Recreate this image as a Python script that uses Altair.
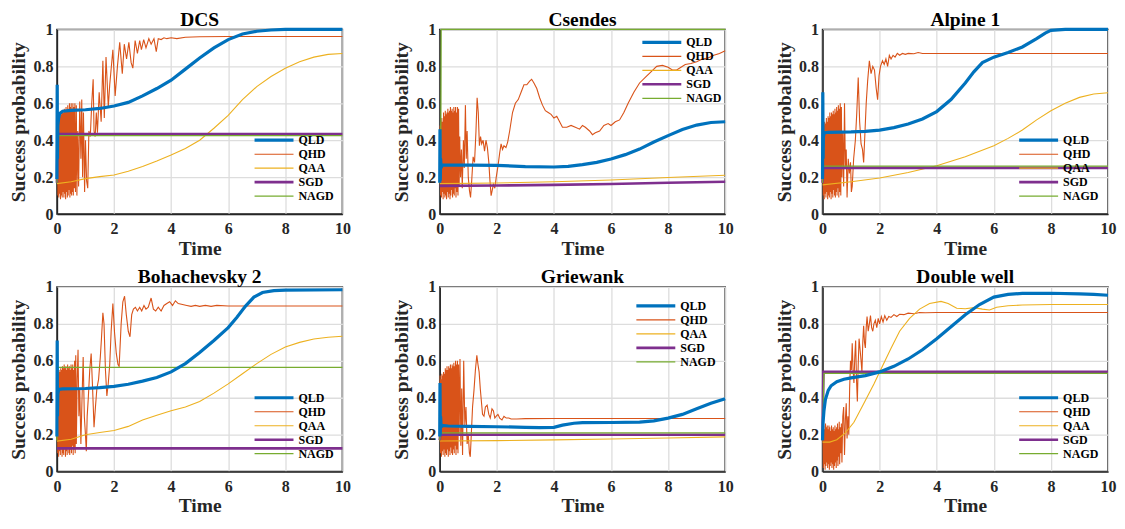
import altair as alt
import pandas as pd

SERIES = ["QLD", "QHD", "QAA", "SGD", "NAGD"]
COLORS = ["#0072BD", "#D95319", "#EDB120", "#7E2F8E", "#77AC30"]
WIDTHS = [3.2, 1.1, 1.1, 2.6, 1.3]
DRAW_ORDER = ["QHD", "QAA", "SGD", "NAGD", "QLD"]
TITLES = ["DCS", "Csendes", "Alpine 1", "Bohachevsky 2", "Griewank", "Double well"]
X_TICKS = [0, 2, 4, 6, 8, 10]
Y_TICKS = [0, 0.2, 0.4, 0.6, 0.8, 1]

# ---------------- DCS ----------------
DCS_QLD = [(0, 0.19), (0.01, 0.70), (0.02, 0.30), (0.03, 0.48), (0.06, 0.52), (0.1, 0.545), (0.2, 0.557),
           (0.5, 0.562), (1, 0.565), (1.5, 0.572), (2, 0.585), (2.5, 0.605), (3, 0.64), (3.5, 0.68), (4, 0.725),
           (4.5, 0.785), (5, 0.845), (5.5, 0.9), (6, 0.945), (6.5, 0.975), (7, 0.99), (7.5, 0.997), (8, 1.0), (10, 1.0)]
DCS_QHD = [(0.00, 0.17), (0.02, 0.45), (0.035, 0.10), (0.05, 0.50), (0.065, 0.09), (0.08, 0.52), (0.095, 0.11),
           (0.11, 0.53), (0.125, 0.08), (0.14, 0.55), (0.155, 0.10), (0.17, 0.54), (0.185, 0.09), (0.20, 0.56),
           (0.215, 0.12), (0.23, 0.55), (0.245, 0.09), (0.26, 0.57), (0.275, 0.11), (0.29, 0.56), (0.305, 0.08),
           (0.32, 0.58), (0.335, 0.12), (0.35, 0.56), (0.365, 0.09), (0.38, 0.59), (0.395, 0.10), (0.41, 0.57),
           (0.425, 0.13), (0.44, 0.60), (0.455, 0.09), (0.47, 0.58), (0.485, 0.11), (0.50, 0.60), (0.515, 0.10),
           (0.53, 0.57), (0.545, 0.12), (0.56, 0.60), (0.575, 0.10), (0.59, 0.58), (0.61, 0.14), (0.63, 0.60),
           (0.65, 0.12), (0.68, 0.59), (0.70, 0.10), (0.73, 0.45), (0.76, 0.15), (0.80, 0.61), (0.84, 0.30),
           (0.87, 0.62), (0.90, 0.20), (0.93, 0.55), (0.97, 0.12), (1.00, 0.40), (1.04, 0.18), (1.08, 0.14),
           (1.12, 0.45), (1.17, 0.42), (1.22, 0.60), (1.27, 0.73), (1.30, 0.45), (1.34, 0.42), (1.38, 0.55),
           (1.42, 0.44), (1.48, 0.66), (1.55, 0.50), (1.61, 0.83), (1.66, 0.52), (1.72, 0.85), (1.80, 0.58),
           (1.85, 0.70), (1.96, 0.89), (2.04, 0.64), (2.12, 0.80), (2.20, 0.93), (2.29, 0.76), (2.36, 0.92),
           (2.44, 0.84), (2.52, 0.93), (2.60, 0.82), (2.66, 0.79), (2.74, 0.94), (2.82, 0.87), (2.90, 0.94),
           (2.96, 0.89), (3.04, 0.945), (3.12, 0.90), (3.22, 0.95), (3.30, 0.92), (3.40, 0.95), (3.48, 0.88),
           (3.55, 0.95), (3.65, 0.945), (3.75, 0.955), (3.85, 0.95), (4.0, 0.955), (4.2, 0.95), (4.5, 0.958),
           (5.0, 0.96), (6.0, 0.962), (10, 0.962)]
DCS_QAA = [(0, 0.165), (0.5, 0.175), (1, 0.192), (1.5, 0.203), (2, 0.212), (2.5, 0.232), (3, 0.258), (3.5, 0.288),
           (4, 0.32), (4.5, 0.355), (5, 0.40), (5.5, 0.465), (6, 0.535), (6.5, 0.62), (7, 0.69), (7.5, 0.745),
           (8, 0.79), (8.5, 0.825), (9, 0.85), (9.5, 0.865), (10, 0.87)]
DCS_SGD = [(0, 0.17), (0.02, 0.434), (10, 0.434)]
DCS_NAGD = [(0, 0.17), (0.02, 0.425), (10, 0.425)]

# ---------------- Csendes ----------------
CSE_QLD = [(0, 0.17), (0.01, 0.46), (0.02, 0.18), (0.03, 0.30), (0.05, 0.25), (0.08, 0.265), (0.5, 0.265),
           (1, 0.265), (2, 0.264), (3, 0.257), (4, 0.255), (4.5, 0.258), (5, 0.268), (5.5, 0.28), (6, 0.298),
           (6.5, 0.322), (7, 0.352), (7.5, 0.39), (8, 0.425), (8.5, 0.458), (9, 0.482), (9.5, 0.496), (10, 0.50)]
CSE_QHD = [(0.00, 0.17), (0.015, 0.48), (0.03, 0.10), (0.045, 0.50), (0.06, 0.09), (0.075, 0.52), (0.09, 0.12),
           (0.105, 0.50), (0.12, 0.08), (0.135, 0.55), (0.15, 0.11), (0.165, 0.53), (0.18, 0.09), (0.195, 0.56),
           (0.21, 0.10), (0.225, 0.54), (0.24, 0.08), (0.255, 0.55), (0.27, 0.12), (0.285, 0.57), (0.30, 0.09),
           (0.315, 0.55), (0.33, 0.11), (0.345, 0.56), (0.36, 0.08), (0.375, 0.58), (0.39, 0.10), (0.405, 0.56),
           (0.42, 0.13), (0.435, 0.57), (0.45, 0.09), (0.465, 0.55), (0.48, 0.11), (0.495, 0.58), (0.51, 0.10),
           (0.525, 0.56), (0.54, 0.14), (0.555, 0.58), (0.57, 0.09), (0.585, 0.55), (0.60, 0.12), (0.62, 0.58),
           (0.64, 0.10), (0.66, 0.57), (0.68, 0.15), (0.70, 0.42), (0.73, 0.20), (0.76, 0.35), (0.79, 0.14),
           (0.83, 0.40), (0.86, 0.25), (0.90, 0.59), (0.93, 0.30), (0.96, 0.45), (1.00, 0.20), (1.04, 0.13),
           (1.08, 0.09), (1.12, 0.18), (1.17, 0.31), (1.22, 0.28), (1.27, 0.45), (1.31, 0.63), (1.35, 0.55),
           (1.39, 0.37), (1.43, 0.42), (1.47, 0.38), (1.52, 0.40), (1.57, 0.34), (1.62, 0.40), (1.67, 0.36),
           (1.72, 0.28), (1.76, 0.18), (1.80, 0.10), (1.84, 0.13), (1.88, 0.16), (1.93, 0.14), (1.98, 0.20),
           (2.04, 0.26), (2.10, 0.33), (2.15, 0.38), (2.20, 0.35), (2.25, 0.37), (2.32, 0.36), (2.38, 0.39),
           (2.45, 0.45), (2.55, 0.55), (2.65, 0.60), (2.75, 0.62), (2.85, 0.66), (2.95, 0.70), (3.05, 0.70),
           (3.15, 0.72), (3.22, 0.73), (3.30, 0.71), (3.40, 0.68), (3.50, 0.63), (3.60, 0.59), (3.70, 0.56),
           (3.80, 0.55), (3.90, 0.54), (4.00, 0.52), (4.10, 0.53), (4.20, 0.50), (4.30, 0.47), (4.45, 0.47),
           (4.60, 0.48), (4.75, 0.47), (4.90, 0.46), (5.00, 0.48), (5.10, 0.47), (5.25, 0.45), (5.35, 0.43),
           (5.45, 0.44), (5.60, 0.45), (5.75, 0.48), (5.90, 0.49), (6.00, 0.48), (6.15, 0.50), (6.30, 0.51),
           (6.45, 0.55), (6.60, 0.60), (6.80, 0.66), (7.00, 0.71), (7.20, 0.74), (7.40, 0.77), (7.60, 0.80),
           (7.80, 0.805), (8.00, 0.795), (8.15, 0.78), (8.30, 0.78), (8.45, 0.795), (8.60, 0.81), (8.80, 0.815),
           (9.00, 0.825), (9.20, 0.84), (9.40, 0.845), (9.60, 0.86), (9.80, 0.87), (10.0, 0.885)]
CSE_QAA = [(0, 0.165), (2, 0.168), (4, 0.175), (6, 0.185), (8, 0.198), (10, 0.21)]
CSE_SGD = [(0, 0.153), (2, 0.155), (4, 0.158), (6, 0.163), (8, 0.17), (10, 0.175)]
CSE_NAGD = [(0, 0.17), (0.04, 0.5), (0.05, 1.0), (10, 1.0)]

# ---------------- Alpine 1 ----------------
ALP_QLD = [(0, 0.19), (0.01, 0.66), (0.02, 0.30), (0.03, 0.42), (0.06, 0.44), (0.2, 0.443), (1, 0.445),
           (1.5, 0.448), (2, 0.455), (2.5, 0.468), (3, 0.488), (3.5, 0.515), (4, 0.555), (4.5, 0.62), (5, 0.71),
           (5.3, 0.77), (5.6, 0.82), (6, 0.85), (6.5, 0.875), (7, 0.905), (7.5, 0.95), (7.8, 0.98), (8, 0.995),
           (8.5, 1.0), (10, 1.0)]
ALP_QHD = [(0.00, 0.17), (0.015, 0.45), (0.03, 0.10), (0.045, 0.48), (0.06, 0.08), (0.075, 0.50), (0.09, 0.11),
           (0.105, 0.49), (0.12, 0.09), (0.135, 0.52), (0.15, 0.12), (0.165, 0.50), (0.18, 0.08), (0.195, 0.53),
           (0.21, 0.10), (0.225, 0.52), (0.24, 0.09), (0.255, 0.55), (0.27, 0.12), (0.285, 0.53), (0.30, 0.08),
           (0.315, 0.55), (0.33, 0.11), (0.345, 0.54), (0.36, 0.09), (0.375, 0.56), (0.39, 0.13), (0.405, 0.54),
           (0.42, 0.10), (0.435, 0.57), (0.45, 0.09), (0.465, 0.55), (0.48, 0.12), (0.495, 0.58), (0.51, 0.10),
           (0.525, 0.56), (0.54, 0.14), (0.555, 0.59), (0.57, 0.09), (0.585, 0.57), (0.60, 0.12), (0.62, 0.60),
           (0.64, 0.10), (0.66, 0.58), (0.68, 0.20), (0.71, 0.45), (0.74, 0.15), (0.77, 0.60), (0.80, 0.25),
           (0.83, 0.35), (0.86, 0.09), (0.90, 0.30), (0.94, 0.22), (0.98, 0.28), (1.01, 0.12), (1.04, 0.15),
           (1.09, 0.30), (1.15, 0.40), (1.20, 0.55), (1.25, 0.74), (1.30, 0.50), (1.35, 0.38), (1.40, 0.35),
           (1.44, 0.28), (1.48, 0.42), (1.53, 0.60), (1.58, 0.72), (1.64, 0.83), (1.70, 0.76), (1.76, 0.80),
           (1.82, 0.78), (1.88, 0.68), (1.93, 0.62), (1.98, 0.75), (2.03, 0.80), (2.10, 0.83), (2.16, 0.81),
           (2.22, 0.84), (2.28, 0.80), (2.34, 0.86), (2.40, 0.84), (2.47, 0.86), (2.54, 0.85), (2.62, 0.87),
           (2.70, 0.86), (2.80, 0.87), (2.90, 0.865), (3.00, 0.87), (3.20, 0.868), (3.35, 0.875), (3.50, 0.87),
           (4.00, 0.87), (10.0, 0.87)]
ALP_QAA = [(0, 0.158), (1, 0.175), (2, 0.195), (3, 0.225), (4, 0.262), (5, 0.31), (6, 0.37), (6.5, 0.41),
           (7, 0.455), (7.5, 0.51), (8, 0.56), (8.5, 0.6), (9, 0.632), (9.5, 0.65), (10, 0.657)]
ALP_SGD = [(0, 0.17), (0.02, 0.25), (10, 0.25)]
ALP_NAGD = [(0, 0.17), (0.02, 0.26), (10, 0.26)]

# ---------------- Bohachevsky 2 ----------------
BOH_QLD = [(0, 0.19), (0.01, 0.71), (0.02, 0.30), (0.03, 0.42), (0.06, 0.445), (0.2, 0.448), (1, 0.45),
           (1.5, 0.455), (2, 0.462), (2.5, 0.473), (3, 0.49), (3.5, 0.51), (4, 0.54), (4.5, 0.585), (5, 0.645),
           (5.5, 0.71), (6, 0.78), (6.3, 0.835), (6.6, 0.895), (6.9, 0.945), (7.2, 0.97), (7.6, 0.98), (8, 0.983),
           (10, 0.985)]
BOH_QHD = [(0.00, 0.17), (0.015, 0.50), (0.03, 0.10), (0.045, 0.53), (0.06, 0.08), (0.075, 0.55), (0.09, 0.11),
           (0.105, 0.54), (0.12, 0.09), (0.135, 0.56), (0.15, 0.12), (0.165, 0.55), (0.18, 0.08), (0.195, 0.57),
           (0.21, 0.10), (0.225, 0.56), (0.24, 0.09), (0.255, 0.58), (0.27, 0.12), (0.285, 0.56), (0.30, 0.08),
           (0.315, 0.57), (0.33, 0.11), (0.345, 0.55), (0.36, 0.09), (0.375, 0.58), (0.39, 0.13), (0.405, 0.56),
           (0.42, 0.10), (0.435, 0.57), (0.45, 0.09), (0.465, 0.55), (0.48, 0.12), (0.495, 0.58), (0.51, 0.10),
           (0.525, 0.56), (0.54, 0.14), (0.555, 0.58), (0.57, 0.09), (0.585, 0.55), (0.60, 0.12), (0.62, 0.60),
           (0.64, 0.10), (0.66, 0.63), (0.68, 0.15), (0.71, 0.50), (0.74, 0.66), (0.77, 0.30), (0.80, 0.45),
           (0.84, 0.15), (0.88, 0.40), (0.92, 0.62), (0.96, 0.30), (1.00, 0.20), (1.03, 0.11), (1.06, 0.30),
           (1.10, 0.40), (1.15, 0.55), (1.20, 0.64), (1.25, 0.45), (1.30, 0.24), (1.35, 0.35), (1.40, 0.45),
           (1.46, 0.50), (1.52, 0.62), (1.56, 0.72), (1.61, 0.86), (1.65, 0.80), (1.70, 0.55), (1.75, 0.41),
           (1.80, 0.48), (1.85, 0.58), (1.90, 0.76), (1.96, 0.91), (2.02, 0.75), (2.08, 0.64), (2.14, 0.58),
           (2.18, 0.57), (2.25, 0.80), (2.31, 0.92), (2.37, 0.95), (2.43, 0.85), (2.50, 0.76), (2.56, 0.73),
           (2.62, 0.85), (2.68, 0.88), (2.75, 0.89), (2.82, 0.87), (2.90, 0.89), (2.97, 0.87), (3.05, 0.90),
           (3.12, 0.88), (3.20, 0.89), (3.30, 0.94), (3.38, 0.88), (3.46, 0.87), (3.55, 0.89), (3.65, 0.87),
           (3.75, 0.90), (3.85, 0.91), (3.95, 0.92), (4.05, 0.90), (4.15, 0.925), (4.25, 0.91), (4.40, 0.905),
           (4.55, 0.90), (4.70, 0.895), (4.85, 0.90), (5.00, 0.895), (5.20, 0.90), (5.40, 0.895), (5.60, 0.90),
           (6.00, 0.897), (10.0, 0.897)]
BOH_QAA = [(0, 0.165), (0.5, 0.175), (1, 0.20), (1.5, 0.212), (2, 0.223), (2.5, 0.245), (3, 0.28), (3.5, 0.305),
           (4, 0.33), (4.5, 0.35), (5, 0.38), (5.5, 0.425), (6, 0.475), (6.5, 0.53), (7, 0.585), (7.5, 0.635),
           (8, 0.675), (8.5, 0.70), (9, 0.718), (9.5, 0.728), (10, 0.733)]
BOH_SGD = [(0, 0.126), (10, 0.126)]
BOH_NAGD = [(0, 0.17), (0.03, 0.565), (10, 0.565)]

# ---------------- Griewank ----------------
GRI_QLD = [(0, 0.19), (0.01, 0.48), (0.02, 0.20), (0.03, 0.30), (0.05, 0.24), (0.08, 0.25), (0.3, 0.247),
           (1, 0.245), (2, 0.243), (3, 0.24), (3.5, 0.238), (4, 0.24), (4.3, 0.252), (4.7, 0.262), (5, 0.265),
           (6, 0.266), (7, 0.268), (7.5, 0.275), (8, 0.29), (8.5, 0.31), (9, 0.34), (9.5, 0.37), (10, 0.395)]
GRI_QHD = [(0.00, 0.17), (0.015, 0.52), (0.03, 0.10), (0.045, 0.50), (0.06, 0.08), (0.075, 0.53), (0.09, 0.11),
           (0.105, 0.52), (0.12, 0.09), (0.135, 0.54), (0.15, 0.12), (0.165, 0.53), (0.18, 0.08), (0.195, 0.56),
           (0.21, 0.10), (0.225, 0.55), (0.24, 0.09), (0.255, 0.57), (0.27, 0.12), (0.285, 0.55), (0.30, 0.08),
           (0.315, 0.57), (0.33, 0.11), (0.345, 0.56), (0.36, 0.09), (0.375, 0.58), (0.39, 0.13), (0.405, 0.56),
           (0.42, 0.10), (0.435, 0.58), (0.45, 0.09), (0.465, 0.57), (0.48, 0.12), (0.495, 0.59), (0.51, 0.10),
           (0.525, 0.57), (0.54, 0.14), (0.555, 0.60), (0.57, 0.09), (0.585, 0.58), (0.60, 0.12), (0.62, 0.60),
           (0.64, 0.10), (0.66, 0.58), (0.68, 0.20), (0.71, 0.61), (0.74, 0.14), (0.77, 0.45), (0.80, 0.09),
           (0.84, 0.60), (0.88, 0.25), (0.92, 0.35), (0.96, 0.15), (1.00, 0.20), (1.04, 0.10), (1.07, 0.08),
           (1.10, 0.18), (1.15, 0.35), (1.20, 0.44), (1.25, 0.55), (1.30, 0.63), (1.34, 0.58), (1.38, 0.54),
           (1.42, 0.45), (1.46, 0.38), (1.50, 0.31), (1.55, 0.30), (1.60, 0.35), (1.66, 0.36), (1.72, 0.31),
           (1.77, 0.29), (1.83, 0.34), (1.88, 0.33), (1.93, 0.29), (1.98, 0.30), (2.04, 0.31), (2.10, 0.29),
           (2.18, 0.28), (2.25, 0.30), (2.33, 0.29), (2.42, 0.29), (2.50, 0.285), (2.70, 0.285), (3.00, 0.287),
           (4.00, 0.288), (10.0, 0.288)]
GRI_QAA = [(0, 0.166), (2, 0.168), (4, 0.172), (6, 0.177), (8, 0.182), (10, 0.188)]
GRI_SGD = [(0, 0.17), (0.02, 0.20), (10, 0.20)]
GRI_NAGD = [(0, 0.17), (0.02, 0.21), (10, 0.21)]

# ---------------- Double well ----------------
DW_QLD = [(0, 0.17), (0.02, 0.27), (0.05, 0.33), (0.1, 0.39), (0.2, 0.44), (0.3, 0.465), (0.5, 0.487),
          (0.75, 0.50), (1, 0.508), (1.5, 0.52), (2, 0.54), (2.5, 0.57), (3, 0.61), (3.5, 0.66), (4, 0.72),
          (4.5, 0.785), (5, 0.85), (5.5, 0.905), (6, 0.945), (6.5, 0.96), (7, 0.965), (8, 0.966), (9, 0.963),
          (9.5, 0.96), (10, 0.955)]
DW_QHD = [(0.00, 0.17), (0.015, 0.24), (0.03, 0.02), (0.045, 0.25), (0.06, 0.04), (0.075, 0.23), (0.09, 0.01),
          (0.105, 0.26), (0.12, 0.03), (0.135, 0.24), (0.15, 0.05), (0.165, 0.25), (0.18, 0.02), (0.195, 0.23),
          (0.21, 0.04), (0.225, 0.25), (0.24, 0.01), (0.255, 0.24), (0.27, 0.03), (0.285, 0.22), (0.30, 0.05),
          (0.315, 0.25), (0.33, 0.02), (0.345, 0.23), (0.36, 0.04), (0.375, 0.24), (0.39, 0.01), (0.405, 0.22),
          (0.42, 0.03), (0.435, 0.25), (0.45, 0.05), (0.465, 0.23), (0.48, 0.02), (0.495, 0.24), (0.51, 0.06),
          (0.525, 0.26), (0.54, 0.03), (0.555, 0.23), (0.57, 0.08), (0.585, 0.27), (0.60, 0.04), (0.62, 0.24),
          (0.64, 0.10), (0.66, 0.26), (0.68, 0.05), (0.71, 0.30), (0.74, 0.35), (0.77, 0.09), (0.80, 0.28),
          (0.83, 0.37), (0.86, 0.18), (0.89, 0.30), (0.92, 0.20), (0.95, 0.45), (0.98, 0.60), (1.01, 0.55),
          (1.04, 0.695), (1.07, 0.55), (1.10, 0.48), (1.13, 0.62), (1.16, 0.71), (1.19, 0.50), (1.22, 0.38),
          (1.25, 0.58), (1.28, 0.72), (1.31, 0.67), (1.35, 0.60), (1.38, 0.54), (1.41, 0.70), (1.44, 0.79),
          (1.47, 0.70), (1.50, 0.67), (1.53, 0.78), (1.56, 0.84), (1.60, 0.76), (1.64, 0.80), (1.68, 0.845),
          (1.72, 0.78), (1.76, 0.76), (1.80, 0.80), (1.85, 0.82), (1.90, 0.78), (1.95, 0.83), (2.00, 0.80),
          (2.06, 0.84), (2.12, 0.81), (2.18, 0.845), (2.25, 0.82), (2.32, 0.84), (2.40, 0.835), (2.50, 0.85),
          (2.60, 0.84), (2.70, 0.852), (2.85, 0.85), (3.00, 0.858), (3.20, 0.855), (3.40, 0.862), (3.60, 0.86),
          (4.00, 0.862), (10.0, 0.862)]
DW_QAA = [(0, 0.16), (0.25, 0.16), (0.5, 0.173), (0.8, 0.21), (1.1, 0.267), (1.45, 0.37), (1.8, 0.475),
          (2.0, 0.54), (2.4, 0.668), (2.7, 0.76), (3.05, 0.83), (3.4, 0.88), (3.75, 0.91), (4.15, 0.922),
          (4.4, 0.91), (4.7, 0.885), (5.0, 0.882), (5.3, 0.888), (5.6, 0.88), (5.85, 0.875), (6.1, 0.89),
          (6.5, 0.898), (7, 0.902), (8, 0.905), (10, 0.905)]
DW_SGD = [(0, 0.17), (0.03, 0.54), (10, 0.54)]
DW_NAGD = [(0, 0.17), (0.05, 0.532), (10, 0.532)]

PANELS = [
    ("DCS", {"QLD": DCS_QLD, "QHD": DCS_QHD, "QAA": DCS_QAA, "SGD": DCS_SGD, "NAGD": DCS_NAGD}, 196, 104),
    ("Csendes", {"QLD": CSE_QLD, "QHD": CSE_QHD, "QAA": CSE_QAA, "SGD": CSE_SGD, "NAGD": CSE_NAGD}, 201, 6),
    ("Alpine 1", {"QLD": ALP_QLD, "QHD": ALP_QHD, "QAA": ALP_QAA, "SGD": ALP_SGD, "NAGD": ALP_NAGD}, 195, 104),
    ("Bohachevsky 2", {"QLD": BOH_QLD, "QHD": BOH_QHD, "QAA": BOH_QAA, "SGD": BOH_SGD, "NAGD": BOH_NAGD}, 196, 104),
    ("Griewank", {"QLD": GRI_QLD, "QHD": GRI_QHD, "QAA": GRI_QAA, "SGD": GRI_SGD, "NAGD": GRI_NAGD}, 195, 12),
    ("Double well", {"QLD": DW_QLD, "QHD": DW_QHD, "QAA": DW_QAA, "SGD": DW_SGD, "NAGD": DW_NAGD}, 195, 104),
]

FONT = "Liberation Serif"
PW, PH = 286, 185


def make_panel(title, series, lx, ly):
    rows = []
    for s, pts in series.items():
        for t, p in pts:
            rows.append({"t": t, "p": p, "s": s})
    df = pd.DataFrame(rows)
    legend = alt.Legend(orient="none", legendX=lx, legendY=ly, title=None)
    color = alt.Color("s:N", scale=alt.Scale(domain=SERIES, range=COLORS), legend=legend)
    sw = alt.StrokeWidth("s:N", scale=alt.Scale(type="ordinal", domain=SERIES, range=WIDTHS), legend=legend)
    x = alt.X("t:Q", scale=alt.Scale(domain=[0, 10], nice=False),
              axis=alt.Axis(values=X_TICKS, title="Time", format="d"))
    y = alt.Y("p:Q", scale=alt.Scale(domain=[0, 1], nice=False),
              axis=alt.Axis(values=Y_TICKS, title="Success probability", format="~g"))
    layers = []
    for s in DRAW_ORDER:
        layers.append(
            alt.Chart(df).transform_filter(alt.datum.s == s)
            .mark_line(strokeJoin="miter")
            .encode(x=x, y=y, color=color, strokeWidth=sw)
        )
    return alt.layer(*layers).properties(width=PW, height=PH, title=title)


panels = [make_panel(*p) for p in PANELS]

chart = (
    alt.concat(*panels, columns=3, spacing={"row": 7, "column": 39.5})
    .resolve_scale(color="independent", strokeWidth="independent")
    .resolve_legend(color="independent", strokeWidth="independent")
    .properties(padding={"left": 0, "top": 0, "right": 0, "bottom": 0}, background="white")
    .configure_view(stroke="#262626", strokeWidth=1.5)
    .configure_axis(
        domainColor="#262626", domainWidth=1.5, grid=True, gridColor="#dddddd", gridWidth=1.3,
        ticks=False, labelFont=FONT, labelFontWeight="bold", labelFontSize=16, labelColor="#262626",
        labelPadding=6.5, labelFlush=False, labelOverlap=False,
        titleFont=FONT, titleFontWeight="bold", titleFontSize=19.5, titleColor="#262626", titlePadding=2.5,
    )
    .configure_axisY(labelPadding=4, titlePadding=4)
    .configure_title(font=FONT, fontSize=19.5, fontWeight="bold", color="#000000", offset=-9)
    .configure_legend(
        symbolType="stroke", symbolSize=1521, clipHeight=14, rowPadding=0, padding=0,
        labelFont=FONT, labelFontWeight="bold", labelFontSize=12, labelColor="#000000", labelOffset=3,
    )
)

chart.save("out.html", embed_options={"renderer": "svg", "actions": False})
